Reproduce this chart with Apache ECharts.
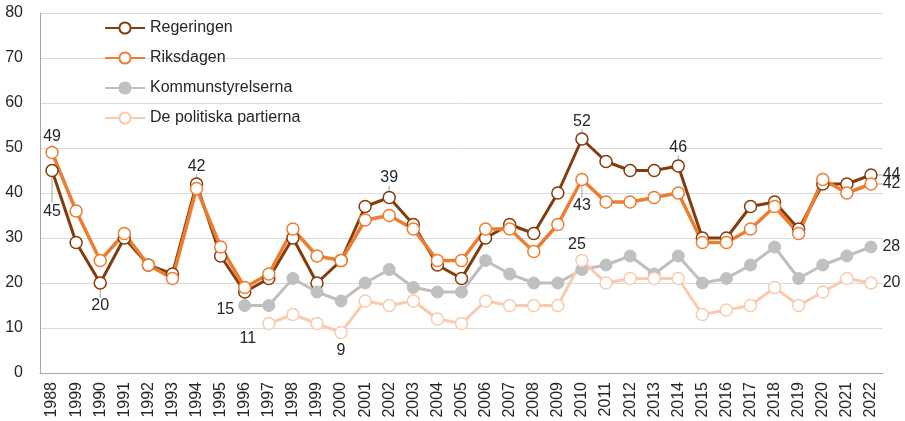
<!DOCTYPE html>
<html><head><meta charset="utf-8">
<script src="https://cdn.jsdelivr.net/npm/echarts@6/dist/echarts.min.js"></script>
<style>html,body{margin:0;padding:0;background:#fff}#c{width:905px;height:421px}</style>
</head><body><div id="c"></div>
<script>
const years = ['1988','1999','1990','1991','1992','1993','1994','1995','1996','1997','1998','1999','2000','2001','2002','2003','2004','2005','2006','2007','2008','2009','2010','2011','2012','2013','2014','2015','2016','2017','2018','2019','2020','2021','2022'];
const regeringen = [45,29,20,30,24,22,42,26,18,21,30,20,25,37,39,33,24,21,30,33,31,40,52,47,45,45,46,30,30,37,38,32,42,42,44];
const riksdagen = [49,36,25,31,24,21,41,28,19,22,32,26,25,34,35,32,25,25,32,32,27,33,43,38,38,39,40,29,29,32,37,31,43,40,42];
const kommun = [null,null,null,null,null,null,null,null,15,15,21,18,16,20,23,19,18,18,25,22,20,20,23,24,26,22,26,20,21,24,28,21,24,26,28];
const partierna = [null,null,null,null,null,null,null,null,null,11,13,11,9,16,15,16,12,11,16,15,15,15,25,20,21,21,21,13,14,15,19,15,18,21,20];
const yTicks = [0,10,20,30,40,50,60,70,80];

const FONT = 'Liberation Sans, Arial, sans-serif';
const TXT = '#262626';
const FS = 16;
function lbl(pos, extra){ return Object.assign({show:true, position:pos, color:TXT, fontSize:FS, fontFamily:FONT, distance:3}, extra||{}); }
function mk(arr, labels){
  return arr.map((v,i)=> labels[i] ? {value:v, label:labels[i]} : v);
}
const regLabels = {0:lbl('bottom',{distance:2}),2:lbl('bottom',{distance:4}),6:lbl('top'),14:lbl('top',{distance:5}),22:lbl('top'),26:lbl('top',{distance:4}),34:lbl('right',{offset:[0,-9],distance:5})};
const rikLabels = {0:lbl('top',{offset:[8,0],distance:1}),22:lbl('bottom',{distance:2}),34:lbl('right',{offset:[0,1],distance:5})};
const komLabels = {8:lbl('left',{offset:[0,4],distance:4}),34:lbl('right',{distance:5})};
const parLabels = {9:lbl('bottom',{offset:[-21,0],distance:0}),12:lbl('bottom',{distance:3}),22:lbl('top',{offset:[-5,0],distance:1}),34:lbl('right',{distance:5})};

const chart = echarts.init(document.getElementById('c'));
chart.setOption({
  animation:false,
  textStyle:{fontFamily:FONT},
  grid:{left:40,right:22,top:13,bottom:48,containLabel:false},
  legend:{
    orient:'vertical', left:104, top:20, padding:0, itemWidth:40, itemHeight:14, itemGap:14,
    textStyle:{color:TXT,fontSize:FS,fontFamily:FONT},
    data:['Regeringen','Riksdagen','Kommunstyrelserna','De politiska partierna']
  },
  xAxis:{
    type:'category', data:years, boundaryGap:true,
    axisLine:{lineStyle:{color:'#a6a6a6',width:1}},
    axisTick:{show:false},
    axisLabel:{rotate:90, interval:0, color:TXT, fontSize:FS, fontFamily:FONT, margin:9}
  },
  yAxis:{
    type:'value', min:yTicks[0], max:yTicks[yTicks.length-1], interval:10,
    axisLine:{show:true,lineStyle:{color:'#a6a6a6',width:1}},
    axisTick:{show:false},
    axisLabel:{color:TXT, fontSize:FS, fontFamily:FONT, margin:17},
    splitLine:{lineStyle:{color:'#d9d9d9',width:1}}
  },
  series:[
    {name:'Regeringen', type:'line', data:mk(regeringen,regLabels), symbol:'circle', symbolSize:12,
     lineStyle:{color:'#843c0c',width:3}, itemStyle:{color:'#ffffff',borderColor:'#843c0c',borderWidth:1.5},
     labelLayout:function(p){ if(p.dataIndex===0) return {dy:24}; if(p.dataIndex===2) return {dy:4}; },
     labelLine:{show:true,lineStyle:{color:'#a6a6a6',width:1}},
     emphasis:{disabled:true}},
    {name:'Riksdagen', type:'line', data:mk(riksdagen,rikLabels), symbol:'circle', symbolSize:12,
     lineStyle:{color:'#ed7d31',width:3.5}, itemStyle:{color:'#ffffff',borderColor:'#ed7d31',borderWidth:1.5},
     labelLayout:function(p){ if(p.dataIndex===22) return {dy:9}; },
     labelLine:{show:true,lineStyle:{color:'#a6a6a6',width:1}},
     emphasis:{disabled:true}},
    {name:'Kommunstyrelserna', type:'line', data:mk(kommun,komLabels), symbol:'circle', symbolSize:12, connectNulls:false,
     lineStyle:{color:'#bfbfbf',width:3}, itemStyle:{color:'#c0c0c0',borderColor:'#bfbfbf',borderWidth:1},
     emphasis:{disabled:true}},
    {name:'De politiska partierna', type:'line', data:mk(partierna,parLabels), symbol:'circle', symbolSize:12, connectNulls:false,
     lineStyle:{color:'#f8cbad',width:3}, itemStyle:{color:'#ffffff',borderColor:'#f8cbad',borderWidth:1.5},
     emphasis:{disabled:true}}
  ]
});
</script></body></html>
